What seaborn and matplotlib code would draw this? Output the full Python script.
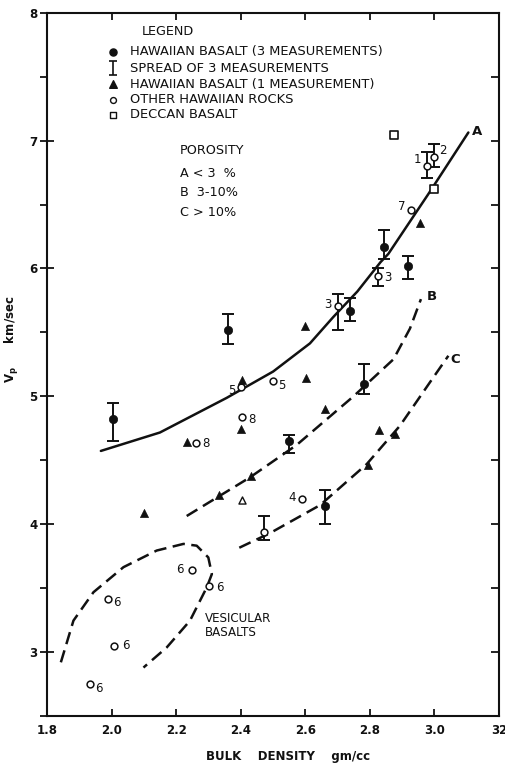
import numpy as np
import matplotlib
matplotlib.use("Agg")
import matplotlib.pyplot as plt
import seaborn as sns

# ---------------- data ----------------
# Hawaiian basalt, mean of 3 measurements, with the spread of the 3 values
h3_density = [2.005, 2.361, 2.550, 2.661, 2.739, 2.783, 2.842, 2.919]
h3_vp = [4.82, 5.52, 4.65, 4.14, 5.67, 5.10, 6.17, 6.02]
h3_vp_low = [4.65, 5.41, 4.555, 4.005, 5.59, 5.02, 6.075, 5.92]
h3_vp_high = [4.95, 5.645, 4.70, 4.267, 5.77, 5.25, 6.30, 6.10]

# Other Hawaiian rocks measured 3 times (spread shown)
osp_density = [2.976, 3.000, 2.826, 2.701, 2.473]
osp_vp = [6.80, 6.875, 5.94, 5.71, 3.937]
osp_vp_low = [6.71, 6.79, 5.86, 5.52, 3.88]
osp_vp_high = [6.91, 6.97, 6.00, 5.80, 4.066]
osp_label = ["1", "2", "3", "3", ""]

# Other Hawaiian rocks, single value
oth_density = [2.926, 2.400, 2.500, 2.403, 2.260, 2.589,
               2.248, 2.302, 1.989, 2.008, 1.932]
oth_vp = [6.457, 5.07, 5.116, 4.836, 4.638, 4.20,
          3.644, 3.516, 3.415, 3.045, 2.751]
oth_label = ["7", "5", "5", "8", "8", "4", "6", "6", "6", "6", "6"]

# Hawaiian basalt, 1 measurement
h1_density = [2.955, 2.600, 2.602, 2.403, 2.400, 2.232, 2.661,
              2.431, 2.332, 2.828, 2.878, 2.795, 2.100]
h1_vp = [6.355, 5.55, 5.146, 5.13, 4.747, 4.646, 4.90,
         4.374, 4.232, 4.737, 4.705, 4.464, 4.09]
h1_open_density = [2.403]
h1_open_vp = [4.186]

# Deccan basalt
deccan_density = [2.875, 3.000]
deccan_vp = [7.04, 6.62]

# Porosity trend curves
curve_a_density = [1.966, 2.149, 2.356, 2.500, 2.614, 2.687, 2.761,
                   2.833, 2.857, 2.981, 3.105]
curve_a_vp = [4.573, 4.717, 4.988, 5.194, 5.414, 5.622, 5.82,
              6.05, 6.114, 6.582, 7.063]
curve_b_density = [2.232, 2.428, 2.573, 2.749, 2.873, 2.924, 2.958]
curve_b_vp = [4.064, 4.366, 4.62, 5.00, 5.29, 5.53, 5.76]
curve_c_density = [2.395, 2.490, 2.646, 2.790, 2.893, 2.986, 3.043]
curve_c_vp = [3.816, 3.93, 4.15, 4.47, 4.77, 5.11, 5.317]
vesic_density = [1.842, 1.881, 1.943, 2.036, 2.139, 2.222, 2.263,
                 2.299, 2.310, 2.294, 2.242, 2.170, 2.098]
vesic_vp = [2.92, 3.246, 3.468, 3.664, 3.794, 3.846, 3.832,
            3.74, 3.61, 3.505, 3.245, 3.036, 2.879]

x_ticks = [1.8, 2.0, 2.2, 2.4, 2.6, 2.8, 3.0, 3.2]
x_tick_labels = ["1.8", "2.0", "2.2", "2.4", "2.6", "2.8", "3.0", "32"]
y_ticks = [3, 4, 5, 6, 7, 8]
y_tick_labels = ["3", "4", "5", "6", "7", "8"]

legend_entries = ["HAWAIIAN BASALT (3 MEASUREMENTS)",
                  "SPREAD OF 3 MEASUREMENTS",
                  "HAWAIIAN BASALT (1 MEASUREMENT)",
                  "OTHER HAWAIIAN ROCKS",
                  "DECCAN BASALT"]
porosity_lines = ["POROSITY", "A < 3  %", "B  3-10%", "C > 10%"]

# ---------------- style ----------------
sns.set_style("ticks")
plt.rcParams["font.family"] = ["DejaVu Sans"]
INK = "#111111"

fig = plt.figure(figsize=(5.06, 7.64), dpi=100)
ax = fig.add_axes([0.0935, 0.0628, 0.8927, 0.9206])
ax.set_xlim(1.8, 3.2)
ax.set_ylim(2.5, 8.0)

# trend curves
dash = [5.0, 2.6]
for xs, ys, dashed in [(curve_a_density, curve_a_vp, False),
                       (curve_b_density, curve_b_vp, True),
                       (curve_c_density, curve_c_vp, True),
                       (vesic_density, vesic_vp, True)]:
    sns.lineplot(x=xs, y=ys, sort=False, estimator=None, color=INK,
                 linewidth=1.8, ax=ax, zorder=2)
    if dashed:
        ax.lines[-1].set_dashes(dash)

# error bars
def spread(x, y, lo, hi):
    y = np.asarray(y)
    err = [y - np.asarray(lo), np.asarray(hi) - y]
    ax.errorbar(x, y, yerr=err, fmt="none", ecolor=INK, elinewidth=1.4,
                capsize=4, capthick=1.4, zorder=3)

spread(h3_density, h3_vp, h3_vp_low, h3_vp_high)
spread(osp_density, osp_vp, osp_vp_low, osp_vp_high)

# markers
sns.scatterplot(x=h3_density, y=h3_vp, marker="o", s=36, color=INK,
                edgecolor=INK, linewidth=0.5, ax=ax, zorder=5)
sns.scatterplot(x=osp_density + oth_density, y=osp_vp + oth_vp, marker="o",
                s=24, color="white", edgecolor=INK, linewidth=1.1, ax=ax,
                zorder=5)
sns.scatterplot(x=h1_density, y=h1_vp, marker="^", s=34, color=INK,
                edgecolor=INK, linewidth=0.5, ax=ax, zorder=5)
sns.scatterplot(x=h1_open_density, y=h1_open_vp, marker="^", s=26,
                color="white", edgecolor=INK, linewidth=1.0, ax=ax, zorder=5)
sns.scatterplot(x=deccan_density, y=deccan_vp, marker="s", s=30,
                color="white", edgecolor=INK, linewidth=1.2, ax=ax, zorder=5)

# sample numbers beside points (offsets in pixels)
osp_offsets = [(-9, 7), (8, 6), (10, -1), (-10, 1), (0, 0)]
oth_offsets = [(-9, 4), (-9, -3), (9, -4), (10, -2), (10, -1), (-10, 1),
               (-12, 0), (11, -1), (9, -3), (11, 1), (9, -5)]
lab_kw = dict(textcoords="offset pixels", ha="center", va="center",
              fontsize=8.5, color=INK, zorder=6)
for x, y, t, off in zip(osp_density, osp_vp, osp_label, osp_offsets):
    if t:
        ax.annotate(t, (x, y), xytext=off, **lab_kw)
for x, y, t, off in zip(oth_density, oth_vp, oth_label, oth_offsets):
    ax.annotate(t, (x, y), xytext=off, **lab_kw)

# curve letters and region note
ax.text(3.131, 7.07, "A", fontsize=9.5, fontweight="bold", color=INK,
        ha="center", va="center")
ax.text(2.992, 5.78, "B", fontsize=9.5, fontweight="bold", color=INK,
        ha="center", va="center")
ax.text(3.064, 5.29, "C", fontsize=9.5, fontweight="bold", color=INK,
        ha="center", va="center")
ax.text(2.289, 3.21, "VESICULAR\nBASALTS", fontsize=8.6, color=INK,
        ha="left", va="center", linespacing=1.1)

# key
ax.text(2.093, 7.85, "LEGEND", fontsize=9.2, color=INK, ha="left",
        va="center")
row_y = [7.694, 7.564, 7.439, 7.32, 7.20]
mx, tx = 2.005, 2.056
ax.scatter([mx], [row_y[0]], marker="o", s=26, color=INK, zorder=5)
ax.errorbar([mx], [row_y[1]], yerr=[[0.055], [0.055]], fmt="none",
            ecolor=INK, elinewidth=1.2, capsize=3, capthick=1.2)
ax.scatter([mx], [row_y[2]], marker="^", s=30, color=INK, zorder=5)
ax.scatter([mx], [row_y[3]], marker="o", s=18, facecolor="white",
           edgecolor=INK, linewidth=1.0, zorder=5)
ax.scatter([mx], [row_y[4]], marker="s", s=20, facecolor="white",
           edgecolor=INK, linewidth=1.0, zorder=5)
for yy, t in zip(row_y, legend_entries):
    ax.text(tx, yy, t, fontsize=9.4, color=INK, ha="left", va="center")

por_y = [6.923, 6.745, 6.596, 6.44]
for yy, t in zip(por_y, porosity_lines):
    ax.text(2.211, yy, t, fontsize=9.2, color=INK, ha="left", va="center")

# axes, ticks and labels
for sp in ax.spines.values():
    sp.set_visible(True)
    sp.set_linewidth(1.5)
    sp.set_color(INK)

ax.set_xticks(x_ticks)
ax.set_xticklabels(x_tick_labels, fontsize=8.5, fontweight="bold")
ax.set_yticks(y_ticks)
ax.set_yticklabels(y_tick_labels, fontsize=8.5, fontweight="bold")
ax.set_yticks(np.arange(2.5, 8.0, 1.0), minor=True)
ax.tick_params(axis="x", which="major", direction="in", length=5,
               width=1.3, top=True, pad=6, colors=INK)
ax.tick_params(axis="y", which="major", direction="inout", length=10,
               width=1.3, pad=2, colors=INK)
ax.tick_params(axis="y", which="minor", direction="out", length=5,
               width=1.3, colors=INK)

right = ax.secondary_yaxis("right")
right.set_yticks(np.arange(3.0, 8.0, 0.5))
right.tick_params(direction="in", length=6, width=1.3, labelright=False,
                  colors=INK)
right.spines["right"].set_visible(False)

ax.set_xlabel("BULK    DENSITY    gm/cc", fontsize=8.5, fontweight="bold",
              color=INK)
ax.xaxis.label.set_va("center")
ax.xaxis.set_label_coords(0.532, -0.058)
ax.set_ylabel(r"V$_{\mathbf{p}}$      km/sec", fontsize=8.5,
              fontweight="bold", color=INK)
ax.yaxis.label.set_va("center")
ax.yaxis.set_label_coords(-0.079, 0.535)

fig.savefig("out.png", dpi=100, facecolor="white")
